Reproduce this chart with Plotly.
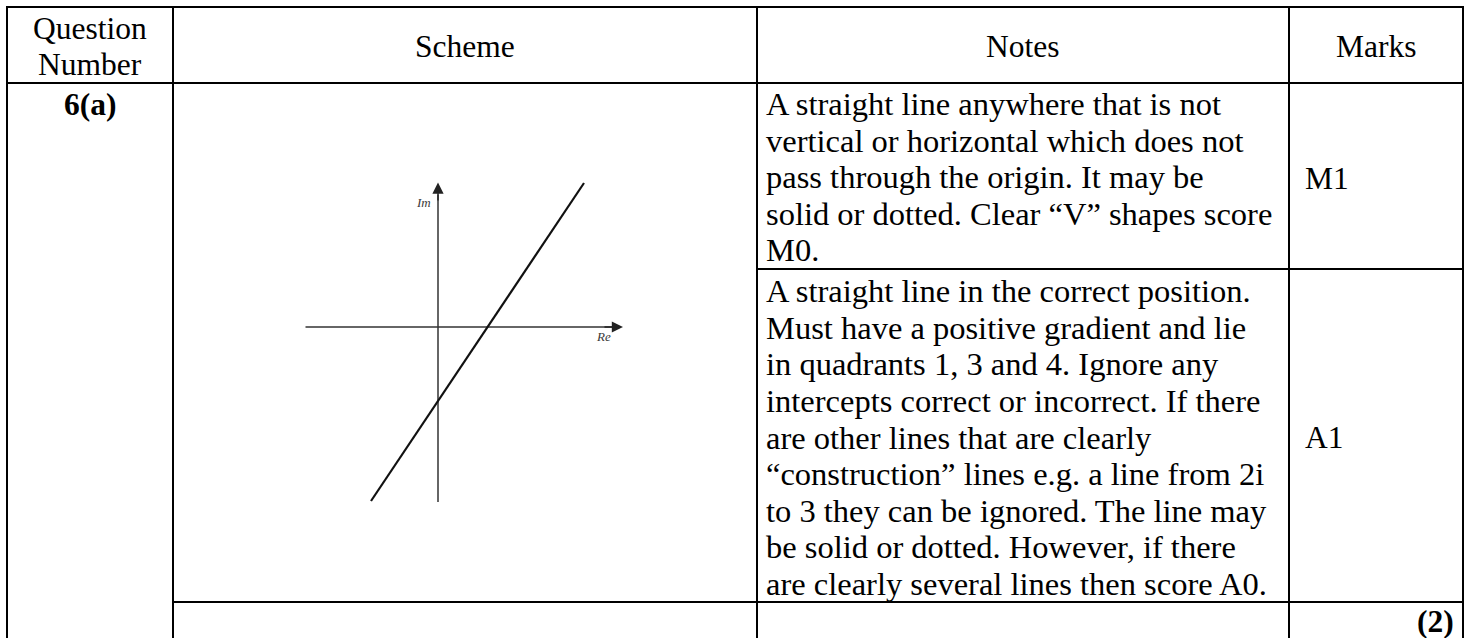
import plotly.graph_objects as go

W, H = 1469, 638

# ---------------- data ----------------
headers = ["Question<br>Number", "Scheme", "Notes", "Marks"]
header_q_lines = ["Question", "Number"]
question_label = "6(a)"
notes_m1 = [
    "A straight line anywhere that is not",
    "vertical or horizontal which does not",
    "pass through the origin. It may be",
    "solid or dotted. Clear “V” shapes score",
    "M0.",
]
notes_a1 = [
    "A straight line in the correct position.",
    "Must have a positive gradient and lie",
    "in quadrants 1, 3 and 4. Ignore any",
    "intercepts correct or incorrect. If there",
    "are other lines that are clearly",
    "“construction” lines e.g. a line from 2i",
    "to 3 they can be ignored. The line may",
    "be solid or dotted. However, if there",
    "are clearly several lines then score A0.",
]
marks = ["M1", "A1"]
total_marks = "(2)"

# Argand sketch (units)
re_axis_x = [-5.3, 7.0]
re_axis_y = [0.0, 0.0]
im_axis_x = [0.0, 0.0]
im_axis_y = [-7.0, 5.3]
locus_x = [-2.68, 5.84]
locus_y = [-6.96, 5.76]

# ---------------- layout geometry (pixels) ----------------
col_x = [7, 173, 757, 1289, 1463]
top_y, head_y, mid_y, foot_y = 7, 83, 269, 602
pitch = 36.6
FONT = "Liberation Serif, Times New Roman, serif"
FS_NOTE = 32.5
FS = 31.5

fig = go.Figure()

# Sketch traces on axis 2
line_style = dict(color="#333333", width=1.5)
fig.add_trace(go.Scatter(x=re_axis_x, y=re_axis_y, mode="lines", line=line_style,
                         xaxis="x2", yaxis="y2", hoverinfo="skip", showlegend=False))
fig.add_trace(go.Scatter(x=im_axis_x, y=im_axis_y, mode="lines", line=line_style,
                         xaxis="x2", yaxis="y2", hoverinfo="skip", showlegend=False))
fig.add_trace(go.Scatter(x=locus_x, y=locus_y, mode="lines", line=dict(color="#111", width=2.2),
                         xaxis="x2", yaxis="y2", hoverinfo="skip", showlegend=False))

shapes = []
def hline(y, x0, x1):
    shapes.append(dict(type="line", xref="x", yref="y", x0=x0, x1=x1, y0=y, y1=y,
                       line=dict(color="black", width=2)))
def vline(x, y0, y1):
    shapes.append(dict(type="line", xref="x", yref="y", x0=x, x1=x, y0=y0, y1=y1,
                       line=dict(color="black", width=2)))

hline(top_y, col_x[0] - 1, col_x[-1] + 1)
hline(head_y, col_x[0], col_x[-1])
hline(mid_y, col_x[2], col_x[-1])
hline(foot_y, col_x[1], col_x[-1])
for cx in col_x:
    vline(cx, top_y, H + 2)

ann = []
def text(x, baseline, s, anchor="left", bold=False, size=FS, color="black"):
    ann.append(dict(x=x, y=baseline - 0.3375 * size, xref="x", yref="y",
                    text=(f"<b>{s}</b>" if bold else s),
                    showarrow=False, xanchor=anchor, yanchor="middle",
                    font=dict(family=FONT, size=size, color=color)))

# header
cq = (col_x[0] + col_x[1]) / 2
text(cq, 39, header_q_lines[0], "center")
text(cq, 75, header_q_lines[1], "center")
text((col_x[1] + col_x[2]) / 2, 57, headers[1], "center")
text((col_x[2] + col_x[3]) / 2, 57, headers[2], "center")
text((col_x[3] + col_x[4]) / 2, 57, headers[3], "center")
text(cq, 115, question_label, "center", bold=True)

nx = col_x[2] + 7
for i, s in enumerate(notes_m1):
    text(nx, 115 + i * pitch, s, size=FS_NOTE)
for i, s in enumerate(notes_a1):
    text(nx, 302.2 + i * pitch, s, size=FS_NOTE)

text(col_x[3] + 14, 189, marks[0])
text(col_x[3] + 14, 448, marks[1])
text(col_x[4] - 7, 632, total_marks, "right", bold=True)

# sketch arrowheads & labels
arrow = dict(showarrow=True, arrowhead=2, arrowsize=1.6, arrowwidth=1.4, arrowcolor="#222",
             xref="x2", yref="y2", axref="x2", ayref="y2", text="")
ann.append(dict(arrow, x=7.4, y=0, ax=6.6, ay=0))
ann.append(dict(arrow, x=0, y=5.78, ax=0, ay=5.0))
ann.append(dict(x=-0.2, y=5.0, xref="x2", yref="y2", text="<i>Im</i>", showarrow=False,
                xanchor="right", yanchor="middle", font=dict(family=FONT, size=13, color="#3a3a3a")))
ann.append(dict(x=7.0, y=-0.38, xref="x2", yref="y2", text="<i>Re</i>", showarrow=False,
                xanchor="right", yanchor="middle", font=dict(family=FONT, size=13, color="#3a3a3a")))

# sketch axis mapping: origin at pixel (438, 327), 25 px per unit
px0, px1, py0, py1 = 280, 640, 150, 520
ox, oy, u = 438, 327, 25.0

fig.update_layout(
    width=W, height=H, margin=dict(l=0, r=0, t=0, b=0),
    paper_bgcolor="white", plot_bgcolor="rgba(0,0,0,0)",
    showlegend=False,
    xaxis=dict(range=[0, W], domain=[0, 1], visible=False, fixedrange=True),
    yaxis=dict(range=[H, 0], domain=[0, 1], visible=False, fixedrange=True),
    xaxis2=dict(range=[(px0 - ox) / u, (px1 - ox) / u], domain=[px0 / W, px1 / W],
                anchor="y2", visible=False, fixedrange=True),
    yaxis2=dict(range=[(oy - py1) / u, (oy - py0) / u], domain=[1 - py1 / H, 1 - py0 / H],
                anchor="x2", visible=False, fixedrange=True),
    shapes=shapes, annotations=ann,
)

fig.write_html("out.html", config={"displayModeBar": False},
               post_script="document.body.style.margin='0';document.body.style.overflow='hidden';")
